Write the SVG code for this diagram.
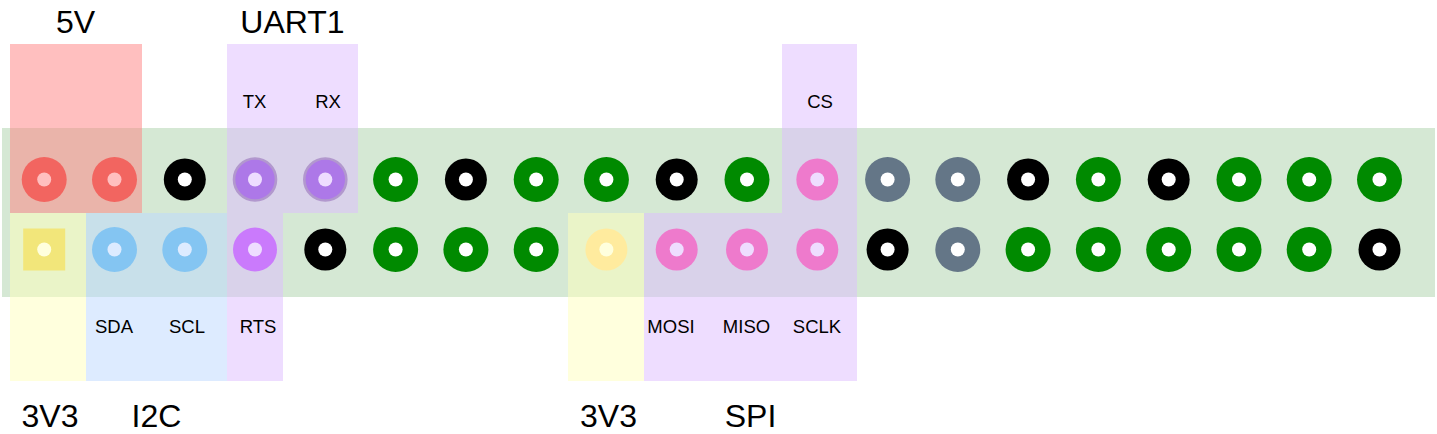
<svg xmlns="http://www.w3.org/2000/svg" width="1437" height="434" viewBox="0 0 1437 434">
<style>
.t{font-family:"Liberation Sans",Arial,sans-serif;fill:#000;text-anchor:middle}
.big{font-size:32px}
.sm{font-size:18.5px}
.hole{fill:#fff}
.ov{opacity:0.5}
.red{fill:#e54a40}
.blk{fill:#000}
.grn{fill:#008a00}
.gry{fill:#647687}
.pnk{fill:#ff3999}
.tx{fill:#7d35d1;stroke:#86759c;stroke-width:2.6}
.rts{fill:#b739f9}
.blu{fill:#4db3e5}
.yl{fill:#e5cd39}
.yc{fill:#ffd781}
</style>
<rect width="1437" height="434" fill="#fff"/>
<g id="board"><rect x="2" y="128" width="1433" height="169" fill="#d5e8d4"/></g>
<g id="pins">
<g id="p1"><circle cx="44.2" cy="179.5" r="22.5" class="red"/><circle cx="44.2" cy="179.5" r="7" class="hole"/></g>
<g id="p3"><circle cx="114.5" cy="179.5" r="22.5" class="red"/><circle cx="114.5" cy="179.5" r="7" class="hole"/></g>
<g id="p5"><circle cx="184.8" cy="179.5" r="21" class="blk"/><circle cx="184.8" cy="179.5" r="7" class="hole"/></g>
<g id="p7"><circle cx="255" cy="179.5" r="21" class="tx"/><circle cx="255" cy="179.5" r="7" class="hole"/></g>
<g id="p9"><circle cx="325.3" cy="179.5" r="21" class="tx"/><circle cx="325.3" cy="179.5" r="7" class="hole"/></g>
<g id="p11"><circle cx="395.6" cy="179.5" r="22.5" class="grn"/><circle cx="395.6" cy="179.5" r="7" class="hole"/></g>
<g id="p13"><circle cx="465.9" cy="179.5" r="21" class="blk"/><circle cx="465.9" cy="179.5" r="7" class="hole"/></g>
<g id="p15"><circle cx="536.2" cy="179.5" r="22.5" class="grn"/><circle cx="536.2" cy="179.5" r="7" class="hole"/></g>
<g id="p17"><circle cx="606.4" cy="179.5" r="22.5" class="grn"/><circle cx="606.4" cy="179.5" r="7" class="hole"/></g>
<g id="p19"><circle cx="676.7" cy="179.5" r="21" class="blk"/><circle cx="676.7" cy="179.5" r="7" class="hole"/></g>
<g id="p21"><circle cx="747" cy="179.5" r="22.5" class="grn"/><circle cx="747" cy="179.5" r="7" class="hole"/></g>
<g id="p23"><circle cx="817.3" cy="179.5" r="21" class="pnk"/><circle cx="817.3" cy="179.5" r="7" class="hole"/></g>
<g id="p25"><circle cx="887.6" cy="179.5" r="22.5" class="gry"/><circle cx="887.6" cy="179.5" r="7" class="hole"/></g>
<g id="p27"><circle cx="957.8" cy="179.5" r="22.5" class="gry"/><circle cx="957.8" cy="179.5" r="7" class="hole"/></g>
<g id="p29"><circle cx="1028.1" cy="179.5" r="21" class="blk"/><circle cx="1028.1" cy="179.5" r="7" class="hole"/></g>
<g id="p31"><circle cx="1098.4" cy="179.5" r="22.5" class="grn"/><circle cx="1098.4" cy="179.5" r="7" class="hole"/></g>
<g id="p33"><circle cx="1168.7" cy="179.5" r="21" class="blk"/><circle cx="1168.7" cy="179.5" r="7" class="hole"/></g>
<g id="p35"><circle cx="1239" cy="179.5" r="22.5" class="grn"/><circle cx="1239" cy="179.5" r="7" class="hole"/></g>
<g id="p37"><circle cx="1309.2" cy="179.5" r="22.5" class="grn"/><circle cx="1309.2" cy="179.5" r="7" class="hole"/></g>
<g id="p39"><circle cx="1379.5" cy="179.5" r="22.5" class="grn"/><circle cx="1379.5" cy="179.5" r="7" class="hole"/></g>

<g id="p2"><rect x="23.2" y="228.5" width="42" height="42" class="yl"/><circle cx="44.2" cy="249.5" r="7" class="hole"/></g>
<g id="p4"><circle cx="114.5" cy="249.5" r="22.5" class="blu"/><circle cx="114.5" cy="249.5" r="7" class="hole"/></g>
<g id="p6"><circle cx="184.8" cy="249.5" r="22.5" class="blu"/><circle cx="184.8" cy="249.5" r="7" class="hole"/></g>
<g id="p8"><circle cx="255" cy="249.5" r="22" class="rts"/><circle cx="255" cy="249.5" r="7" class="hole"/></g>
<g id="p10"><circle cx="325.3" cy="249.5" r="21" class="blk"/><circle cx="325.3" cy="249.5" r="7" class="hole"/></g>
<g id="p12"><circle cx="395.6" cy="249.5" r="22.5" class="grn"/><circle cx="395.6" cy="249.5" r="7" class="hole"/></g>
<g id="p14"><circle cx="465.9" cy="249.5" r="22.5" class="grn"/><circle cx="465.9" cy="249.5" r="7" class="hole"/></g>
<g id="p16"><circle cx="536.2" cy="249.5" r="22.5" class="grn"/><circle cx="536.2" cy="249.5" r="7" class="hole"/></g>
<g id="p18"><circle cx="606.4" cy="249.5" r="21" class="yc"/><circle cx="606.4" cy="249.5" r="7" class="hole"/></g>
<g id="p20"><circle cx="676.7" cy="249.5" r="21" class="pnk"/><circle cx="676.7" cy="249.5" r="7" class="hole"/></g>
<g id="p22"><circle cx="747" cy="249.5" r="21" class="pnk"/><circle cx="747" cy="249.5" r="7" class="hole"/></g>
<g id="p24"><circle cx="817.3" cy="249.5" r="21" class="pnk"/><circle cx="817.3" cy="249.5" r="7" class="hole"/></g>
<g id="p26"><circle cx="887.6" cy="249.5" r="21" class="blk"/><circle cx="887.6" cy="249.5" r="7" class="hole"/></g>
<g id="p28"><circle cx="957.8" cy="249.5" r="22.5" class="gry"/><circle cx="957.8" cy="249.5" r="7" class="hole"/></g>
<g id="p30"><circle cx="1028.1" cy="249.5" r="22.5" class="grn"/><circle cx="1028.1" cy="249.5" r="7" class="hole"/></g>
<g id="p32"><circle cx="1098.4" cy="249.5" r="22.5" class="grn"/><circle cx="1098.4" cy="249.5" r="7" class="hole"/></g>
<g id="p34"><circle cx="1168.7" cy="249.5" r="22.5" class="grn"/><circle cx="1168.7" cy="249.5" r="7" class="hole"/></g>
<g id="p36"><circle cx="1239" cy="249.5" r="22.5" class="grn"/><circle cx="1239" cy="249.5" r="7" class="hole"/></g>
<g id="p38"><circle cx="1309.2" cy="249.5" r="22.5" class="grn"/><circle cx="1309.2" cy="249.5" r="7" class="hole"/></g>
<g id="p40"><circle cx="1379.5" cy="249.5" r="21" class="blk"/><circle cx="1379.5" cy="249.5" r="7" class="hole"/></g>
</g>
<g id="groups">
<g id="g5v"><rect x="10" y="44" width="132" height="169" fill="#ff8080" class="ov"/></g>
<g id="guart"><polygon points="227,44 358,44 358,213 283,213 283,381 227,381" fill="#ddbbff" class="ov"/></g>
<g id="g3v3a"><rect x="10" y="213" width="76" height="168" fill="#ffffbb" class="ov"/></g>
<g id="gi2c"><rect x="86" y="213" width="141" height="168" fill="#bbd7ff" class="ov"/></g>
<g id="g3v3b"><rect x="568" y="213" width="76" height="168" fill="#ffffbb" class="ov"/></g>
<g id="gspi"><polygon points="644,213 782,213 782,44 857,44 857,381 644,381" fill="#ddbbff" class="ov"/></g>
</g>
<g id="connectors"></g>
<g id="labels">
<text class="t big" x="75.5" y="33">5V</text>
<text class="t big" x="292.5" y="33">UART1</text>
<text class="t sm" x="254.5" y="108">TX</text>
<text class="t sm" x="328" y="108">RX</text>
<text class="t sm" x="820" y="108">CS</text>
<text class="t sm" x="114" y="333">SDA</text>
<text class="t sm" x="187" y="333">SCL</text>
<text class="t sm" x="258" y="333">RTS</text>
<text class="t sm" x="671" y="333">MOSI</text>
<text class="t sm" x="746.5" y="333">MISO</text>
<text class="t sm" x="817" y="333">SCLK</text>
<text class="t big" x="50" y="427">3V3</text>
<text class="t big" x="156.5" y="427">I2C</text>
<text class="t big" x="608.5" y="427">3V3</text>
<text class="t big" x="750.5" y="427">SPI</text>
</g>
</svg>
